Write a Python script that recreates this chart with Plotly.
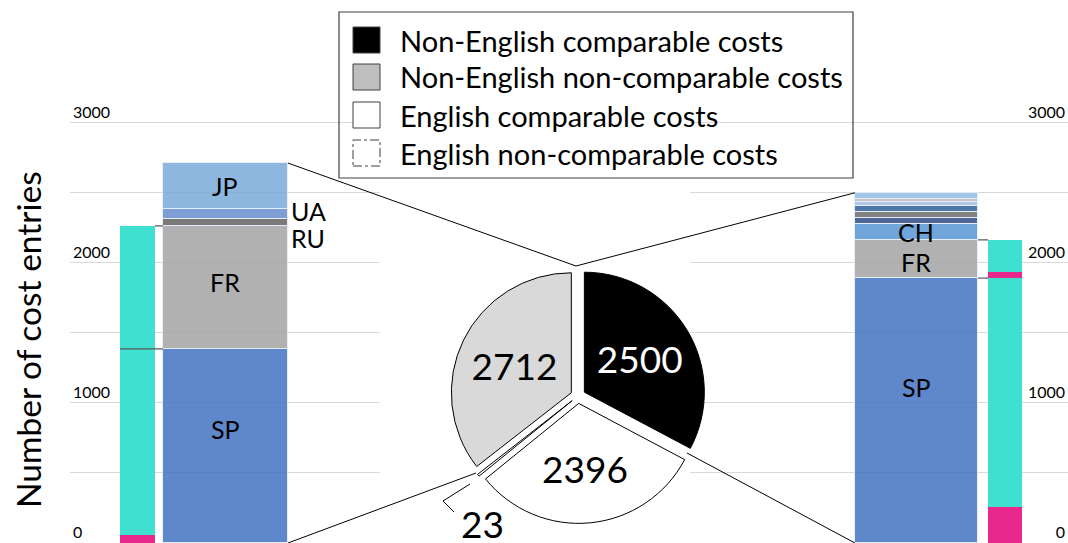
import plotly.graph_objects as go

W, H = 1068, 543

# ---------------- data ----------------
pie_labels = ["Non-English comparable costs", "English comparable costs",
              "English non-comparable costs", "Non-English non-comparable costs"]
pie_values = [2500, 2396, 23, 2712]

left_langs = ["SP", "FR", "RU", "UA", "JP"]
left_counts = [1386, 878, 50, 70, 328]
left_split_magenta = [57, 0]
left_split_cyan = [1329, 878]

right_langs = ["SP", "FR", "CH", "", "", "", "", "", ""]
right_counts = [1891, 273, 112, 43, 45, 47, 22, 28, 39]
right_split_magenta = [259, 43]
right_split_cyan = [1632, 230]

y_ticks = [0, 1000, 2000, 3000]
y_tick_labels = ["0", "1000", "2000", "3000"]

# ---------------- style ----------------
FONT = "Lato"
BAR_OPACITY = 0.85
left_colors = ["#6088cc", "#b2b2b2", "#7a7a7a", "#7f9fd6", "#8fb8e0"]
right_colors = ["#6088cc", "#b2b2b2", "#70a6da", "#4f6898", "#838383",
                "#4e78a6", "#b3c6e6", "#c6c6c6", "#a2c6e8"]
MAGENTA = "#e8298b"
CYAN = "#40e0d0"
pie_colors = ["#000000", "#ffffff", "#ffffff", "#d9d9d9"]
pie_text_colors = ["#ffffff", "#000000", "#000000", "#000000"]


def base_color(hexc, a=BAR_OPACITY):
    h = hexc.lstrip("#")
    rgb = [int(h[i:i + 2], 16) for i in (0, 2, 4)]
    out = [max(0, min(255, round((c - 255 * (1 - a)) / a))) for c in rgb]
    return "rgb(%d,%d,%d)" % tuple(out)


L_DOM = [70 / W, 380 / W]
L_RANGE = [-0.767, 2.756]
R_DOM = [690 / W, 1.0]
R_RANGE = [-2.559, 1.712]
Y_RANGE = [0, 3300]
Y_DOM = [0, 0.774 * Y_RANGE[1] / 3000]
WIDE_L, NARROW_L = 1.42, 0.398
WIDE_R, NARROW_R = 1.39, 0.384
L_CATS = ["split", "lang"]
R_CATS = ["lang", "split"]

fig = go.Figure()


def add_stack(langs, counts, colors, xa, ya, width):
    for lang, v, c in zip(langs, counts, colors):
        fig.add_trace(go.Bar(
            x=["lang"], y=[v], width=[width], name=lang or "other",
            marker=dict(color=base_color(c), opacity=BAR_OPACITY,
                        line=dict(color="#e4ecf7", width=1)),
            xaxis=xa, yaxis=ya, hoverinfo="skip"))


def add_split(mag, cyan, xa, ya, width):
    for m, cy in zip(mag, cyan):
        fig.add_trace(go.Bar(x=["split"], y=[m], width=[width],
                             marker=dict(color=MAGENTA, line=dict(width=0)),
                             xaxis=xa, yaxis=ya, hoverinfo="skip"))
        fig.add_trace(go.Bar(x=["split"], y=[cy], width=[width],
                             marker=dict(color=CYAN, line=dict(width=0)),
                             xaxis=xa, yaxis=ya, hoverinfo="skip"))


add_split(left_split_magenta, left_split_cyan, "x", "y", NARROW_L)
add_stack(left_langs, left_counts, left_colors, "x", "y", WIDE_L)
add_stack(right_langs, right_counts, right_colors, "x2", "y2", WIDE_R)
add_split(right_split_magenta, right_split_cyan, "x2", "y2", NARROW_R)

# pie
PIE_PULL = 0.062
fig.add_trace(go.Pie(
    labels=pie_labels, values=pie_values, sort=False, direction="clockwise",
    rotation=0, pull=[PIE_PULL] * len(pie_values),
    marker=dict(colors=pie_colors, line=dict(color="#000000", width=1)),
    texttemplate="%{value}", textposition=["inside", "inside", "none", "inside"],
    insidetextorientation="horizontal",
    textfont=dict(family=FONT, size=37, color=pie_text_colors),
    domain=dict(x=[450.6 / W, 705.4 / W], y=[19.6 / H, 274.4 / H]),
    hoverinfo="skip", showlegend=False))

# ---------------- helpers for decoration ----------------
def px(x, y):
    return x / W, 1 - y / H


def dx_to_paper(pos, dom, rng):
    return dom[0] + (pos - rng[0]) / (rng[1] - rng[0]) * (dom[1] - dom[0])


def dy_to_paper(v):
    return Y_DOM[0] + (v - Y_RANGE[0]) / (Y_RANGE[1] - Y_RANGE[0]) * (Y_DOM[1] - Y_DOM[0])


shapes = []
LINE = dict(color="#000000", width=1)

# zoom lines from bars to pie
PIE_TOP = (576, 266)
PIE_LEFT = (476, 473)
PIE_RIGHT = (687, 453)
lx = dx_to_paper(L_CATS.index("lang") + WIDE_L / 2, L_DOM, L_RANGE)
rx = dx_to_paper(R_CATS.index("lang") - WIDE_R / 2, R_DOM, R_RANGE)
for (bx, bv, pp) in [(lx, sum(left_counts), PIE_TOP), (lx, 0, PIE_LEFT),
                     (rx, sum(right_counts), PIE_TOP), (rx, 0, PIE_RIGHT)]:
    px0, py0 = px(*pp)
    shapes.append(dict(type="line", xref="paper", yref="paper",
                       x0=bx, y0=dy_to_paper(bv), x1=px0, y1=py0, line=LINE))

# connector ticks between split bar and stacked bar
CONN = dict(color="#595959", width=1.2)
sp_l = left_counts[0]
top_l = left_counts[0] + left_counts[1]
shapes.append(dict(type="line", xref="x", yref="y", x0=0 - NARROW_L / 2, x1=1 - WIDE_L / 2,
                   y0=sp_l, y1=sp_l, line=CONN))
shapes.append(dict(type="line", xref="x", yref="y", x0=0 + NARROW_L / 2, x1=1 - WIDE_L / 2,
                   y0=top_l, y1=top_l, line=CONN))
sp_r = right_counts[0]
top_r = right_counts[0] + right_counts[1]
for yv in (sp_r, top_r):
    shapes.append(dict(type="line", xref="x2", yref="y2", x0=0 + WIDE_R / 2, x1=1 - NARROW_R / 2,
                       y0=yv, y1=yv, line=CONN))

# leader for small slice
pts = [px(470, 484), px(443, 501), px(454, 512)]
path = "M %f,%f L %f,%f L %f,%f" % (pts[0] + pts[1] + pts[2])
shapes.append(dict(type="path", xref="paper", yref="paper", path=path, line=LINE))

# legend box
bx0, by0 = px(339, 12)
bx1, by1 = px(853, 178)
shapes.append(dict(type="rect", xref="paper", yref="paper", x0=bx0, y0=by1, x1=bx1, y1=by0,
                   line=dict(color="#404040", width=1.2), fillcolor="rgba(255,255,255,0)"))
legend_order = [0, 3, 1, 2]
legend_fill = ["#000000", "#bfbfbf", "#ffffff", "#ffffff"]
legend_dash = ["solid", "solid", "solid", "dashdot"]
row_y = [40, 77, 115, 153]
annotations = []
for i, k in enumerate(legend_order):
    sx0, sy0 = px(353, row_y[i] - 13)
    sx1, sy1 = px(380, row_y[i] + 13)
    shapes.append(dict(type="rect", xref="paper", yref="paper", x0=sx0, y0=sy1, x1=sx1, y1=sy0,
                       fillcolor=legend_fill[i],
                       line=dict(color="#404040", width=1, dash=legend_dash[i])))
    tx, ty = px(398, row_y[i])
    annotations.append(dict(xref="paper", yref="paper", x=tx, y=ty, xanchor="left", yanchor="middle",
                            text=pie_labels[k], showarrow=False,
                            font=dict(family=FONT, size=29, color="#000000")))

# bar labels
LBL = dict(family=FONT, size=25, color="#000000")
left_inside = {"SP": 17, "FR": 5, "JP": 0}
left_outside = {"UA": 3, "RU": -16}
cum = 0
for lang, v in zip(left_langs, left_counts):
    mid = cum + v / 2
    cum += v
    if lang in left_inside:
        annotations.append(dict(xref="x", yref="y", x=1, y=mid, text=lang, showarrow=False,
                                xanchor="center", yanchor="middle",
                                yshift=left_inside[lang], font=LBL))
    elif lang in left_outside:
        annotations.append(dict(xref="x", yref="y", x=1 + WIDE_L / 2, y=mid, text=lang,
                                showarrow=False, xanchor="left", yanchor="middle", xshift=1,
                                yshift=left_outside[lang], font=LBL))
right_inside = {"SP": 24, "FR": -3, "CH": 0}
cum = 0
for lang, v in zip(right_langs, right_counts):
    mid = cum + v / 2
    cum += v
    if lang in right_inside:
        annotations.append(dict(xref="x2", yref="y2", x=0, y=mid, text=lang, showarrow=False,
                                xanchor="center", yanchor="middle",
                                yshift=right_inside[lang], font=LBL))

# small slice value
tx, ty = px(482, 523)
annotations.append(dict(xref="paper", yref="paper", x=tx, y=ty, text=str(pie_values[2]),
                        xanchor="center", yanchor="middle",
                        showarrow=False, font=dict(family=FONT, size=37, color="#000000")))

# y axis title
tx, ty = px(28, 340)
annotations.append(dict(xref="paper", yref="paper", x=tx, y=ty, text="Number of cost entries",
                        xanchor="center", yanchor="middle",
                        textangle=-90, showarrow=False,
                        font=dict(family=FONT, size=33.5, color="#000000")))

yax = dict(domain=Y_DOM, range=Y_RANGE, tickvals=y_ticks, ticktext=y_tick_labels,
           ticklabelposition="inside top", ticklabelshift=1, ticks="", showline=False,
           zeroline=False, showgrid=True, gridcolor="#d9d9d9", gridwidth=1,
           minor=dict(dtick=500, showgrid=True, gridcolor="#d9d9d9", gridwidth=1),
           tickfont=dict(family=FONT, size=16, color="#000000"), fixedrange=True)

fig.update_layout(
    width=W, height=H, margin=dict(l=0, r=0, t=0, b=0),
    paper_bgcolor="#ffffff", plot_bgcolor="rgba(0,0,0,0)",
    barmode="stack", bargap=0, showlegend=False,
    xaxis=dict(domain=L_DOM, range=L_RANGE, type="category", categoryorder="array",
               categoryarray=L_CATS, visible=False),
    xaxis2=dict(domain=R_DOM, range=R_RANGE, type="category", categoryorder="array",
                categoryarray=R_CATS, visible=False, anchor="y2"),
    yaxis=dict(anchor="x", side="left", **yax),
    yaxis2=dict(anchor="x2", side="right", **yax),
    shapes=shapes, annotations=annotations,
)

fig.write_html("out.html", config={"displayModeBar": False},
               post_script="document.body.style.margin='0px';")
